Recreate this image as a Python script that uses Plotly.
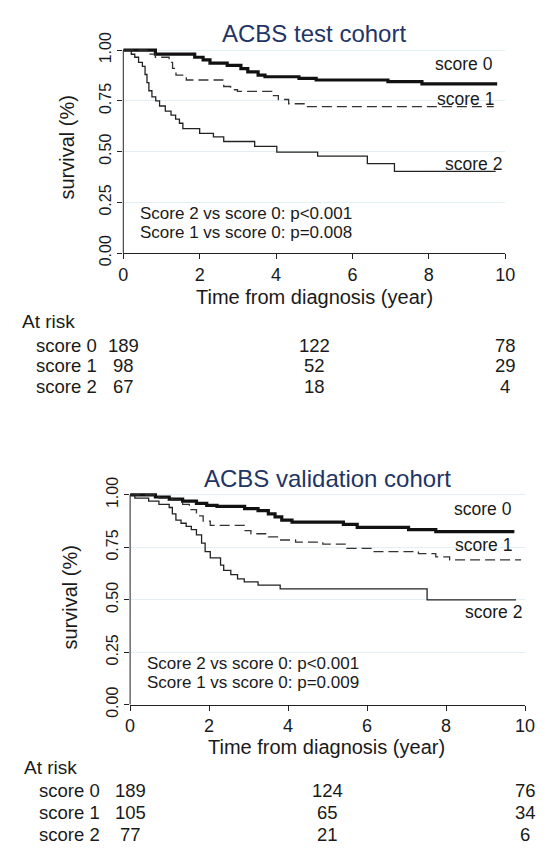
import plotly.graph_objects as go

# ---------------- data ----------------
# Test cohort (top panel): step drop times (years) and survival after each drop
test_t0 = [0, 0.84, 1.87, 2.09, 2.27, 2.72, 3.08, 3.26, 3.53, 3.71, 4.6, 5.05, 6.93, 7.82, 9.79]
test_s0 = [1, 0.981, 0.965, 0.952, 0.936, 0.925, 0.909, 0.893, 0.877, 0.869, 0.861, 0.853, 0.845, 0.834, 0.834]
test_t1 = [0, 0.62, 0.84, 1.2, 1.29, 1.38, 1.65, 2.63, 2.81, 2.99, 3.89, 4.06, 4.33, 4.78, 9.7]
test_s1 = [1, 0.981, 0.965, 0.94, 0.91, 0.877, 0.853, 0.821, 0.805, 0.797, 0.776, 0.757, 0.736, 0.722, 0.722]
test_t2 = [0, 0.21, 0.3, 0.4, 0.5, 0.57, 0.62, 0.67, 0.75, 0.85, 0.95, 1.1, 1.25, 1.37, 1.47, 1.56,
           2.0, 2.36, 2.63, 3.44, 4.02, 5.09, 6.39, 7.1, 9.75]
test_s2 = [1, 0.98, 0.965, 0.94, 0.92, 0.88, 0.84, 0.80, 0.77, 0.75, 0.725, 0.70, 0.68, 0.66, 0.64, 0.613,
           0.59, 0.573, 0.55, 0.526, 0.498, 0.478, 0.441, 0.403, 0.403]

# Validation cohort (bottom panel)
val_t0 = [0, 0.64, 0.99, 1.33, 1.68, 1.94, 2.2, 2.9, 3.24, 3.5, 3.67, 3.84, 4.1, 5.4, 5.75, 7.05, 7.74, 9.73]
val_s0 = [1, 0.99, 0.98, 0.97, 0.96, 0.95, 0.945, 0.935, 0.925, 0.91, 0.895, 0.88, 0.87, 0.86, 0.845, 0.835, 0.825, 0.825]
val_t1 = [0, 0.73, 1.07, 1.33, 1.5, 1.68, 1.85, 2.03, 2.89, 3.06, 3.5, 3.76, 4.19, 4.88, 5.49, 6.1, 7.3, 7.74, 8.09, 9.9]
val_s1 = [1, 0.985, 0.975, 0.955, 0.93, 0.90, 0.875, 0.855, 0.83, 0.815, 0.80, 0.785, 0.775, 0.765, 0.745, 0.73, 0.72, 0.705, 0.69, 0.69]
val_t2 = [0, 0.12, 0.47, 0.73, 0.99, 1.07, 1.16, 1.29, 1.42, 1.55, 1.68, 1.81, 1.9, 2.03, 2.29, 2.37, 2.55,
          2.72, 2.89, 3.24, 3.8, 7.52, 9.77]
val_s2 = [1, 0.985, 0.97, 0.955, 0.94, 0.91, 0.88, 0.865, 0.85, 0.835, 0.81, 0.77, 0.73, 0.70, 0.665, 0.64, 0.62,
          0.60, 0.585, 0.57, 0.552, 0.50, 0.50]

score_names = ["score 0", "score 1", "score 2"]
risk_times = [0, 5, 10]
test_risk0 = [189, 122, 78]
test_risk1 = [98, 52, 29]
test_risk2 = [67, 18, 4]
val_risk0 = [189, 124, 76]
val_risk1 = [105, 65, 34]
val_risk2 = [77, 21, 6]

titles = ["ACBS test cohort", "ACBS validation cohort"]
pvals_test = ["Score 2 vs score 0: p<0.001", "Score 1 vs score 0: p=0.008"]
pvals_val = ["Score 2 vs score 0: p<0.001", "Score 1 vs score 0: p=0.009"]
x_ticks = [0, 2, 4, 6, 8, 10]
y_ticks = [0, 0.25, 0.5, 0.75, 1.0]
y_tick_text = ["0.00", "0.25", "0.50", "0.75", "1.00"]

# ---------------- figure ----------------
W, H = 551, 865
FONT = "Liberation Sans, Arial, sans-serif"
TXT = "#1a1a1a"

def py(px):
    return 1 - px / H

def px_(px):
    return px / W

fig = go.Figure()

styles = [dict(color="#111111", width=3.2),
          dict(color="#333333", width=1.3, dash="10px,5px"),
          dict(color="#222222", width=1.3)]

panels = [
    ("x", "y", [(test_t0, test_s0), (test_t1, test_s1), (test_t2, test_s2)]),
    ("x2", "y2", [(val_t0, val_s0), (val_t1, val_s1), (val_t2, val_s2)]),
]
for xa, ya, series in panels:
    for (t, s), st, nm in zip(series, styles, score_names):
        fig.add_trace(go.Scatter(x=t, y=s, mode="lines", line_shape="hv", line=st,
                                 name=nm, xaxis=xa, yaxis=ya, showlegend=False,
                                 hoverinfo="skip"))

axis_common_x = dict(range=[0, 10], tickvals=x_ticks, ticks="outside", ticklen=5, tickwidth=1,
                     tickcolor="#222", showline=True, linecolor="#222", linewidth=1,
                     showgrid=False, zeroline=False,
                     tickfont=dict(family=FONT, size=18, color=TXT))
axis_common_y = dict(range=[0, 1.03], tickvals=y_ticks, ticktext=y_tick_text, ticks="outside",
                     ticklen=5, tickwidth=1, tickcolor="#222", showline=False,
                     showgrid=True, gridcolor="#e3f0f3", gridwidth=1, zeroline=False,
                     tickangle=-90, tickfont=dict(family=FONT, size=16, color=TXT))

# top panel: t=0 at 121.6px, t=10 at 514.2px; s=0 at 248.3px, s=1 at 39.3px
# bottom panel: t=0 at 128.6px, t=10 at 534.6px; s=0 at 713.3px, s=1 at 497.3px
fig.update_layout(
    width=W, height=H, margin=dict(l=0, r=0, t=0, b=0),
    paper_bgcolor="white", plot_bgcolor="white", showlegend=False,
    xaxis=dict(axis_common_x, domain=[px_(121.6), px_(514.2)], anchor="y"),
    yaxis=dict(axis_common_y, domain=[py(248.3), py(248.3 - 1.03 * 209)], anchor="x"),
    xaxis2=dict(axis_common_x, domain=[px_(128.6), px_(534.6)], anchor="y2"),
    yaxis2=dict(axis_common_y, domain=[py(713.3), py(713.3 - 1.03 * 216)], anchor="x2"),
)

# y-axis lines from 0 to 1
for xd, ya in [("x domain", "y"), ("x2 domain", "y2")]:
    fig.add_shape(type="line", xref=xd, yref=ya, x0=0, x1=0, y0=0, y1=1,
                  line=dict(color="#222", width=1), layer="above")

ann = []
def A(**kw):
    base = dict(showarrow=False, font=dict(family=FONT, size=18, color=TXT))
    f = kw.pop("font", None)
    base.update(kw)
    if f:
        base["font"] = dict(base["font"], **f)
    ann.append(base)

# titles
A(text=titles[0], xref="paper", yref="paper", x=px_(318), y=py(21.7), xanchor="center", yanchor="middle",
  font=dict(size=24, color="#1f3566"))
A(text=titles[1], xref="paper", yref="paper", x=px_(332), y=py(480), xanchor="center", yanchor="middle",
  font=dict(size=24, color="#1f3566"))
# axis titles
for xc, yc in [(318.5, 293), (331, 757)]:
    A(text="Time from diagnosis (year)", xref="paper", yref="paper", x=px_(xc), y=py(yc),
      xanchor="center", yanchor="middle", font=dict(size=20))
for xc, yc in [(63.3, 140), (66.8, 603)]:
    A(text="survival (%)", xref="paper", yref="paper", x=px_(xc), y=py(yc), textangle=-90,
      xanchor="center", yanchor="middle", font=dict(size=20))

# curve labels
for xr, yr, pos in [("x", "y", [(9.72, 0.933), (9.75, 0.76), (9.97, 0.44)]),
                    ("x2", "y2", [(9.73, 0.934), (9.73, 0.761), (9.97, 0.44)])]:
    for nm, (tx, ty) in zip(score_names, pos):
        A(text=nm, xref=xr, yref=yr, x=tx, y=ty, xanchor="right", yanchor="middle",
          font=dict(size=17.5))

# p-values
for xr, yr, lines, x0, ys in [("x", "y", pvals_test, 0.39, [0.195, 0.102]),
                              ("x2", "y2", pvals_val, 0.38, [0.196, 0.105])]:
    for ln, yy in zip(lines, ys):
        A(text=ln, xref=xr, yref=yr, x=x0, y=yy, xanchor="left", yanchor="middle",
          font=dict(size=17))

# at-risk tables
tables = [
    ("x", 15.8, 29.5, [319, 343, 364.5, 385.5], [test_risk0, test_risk1, test_risk2]),
    ("x2", 17.6, 33.4, [778, 801.7, 824, 846.7], [val_risk0, val_risk1, val_risk2]),
]
for xr, ax_left, lab_left, rows, risks in tables:
    A(text="At risk", xref="paper", yref="paper", x=px_(ax_left), y=py(rows[0]),
      xanchor="left", yanchor="middle", font=dict(size=19))
    for nm, rowy, vals in zip(score_names, rows[1:], risks):
        A(text=nm, xref="paper", yref="paper", x=px_(lab_left), y=py(rowy),
          xanchor="left", yanchor="middle", font=dict(size=18.5))
        for tt, v in zip(risk_times, vals):
            A(text=str(v), xref=xr, yref="paper", x=tt, y=py(rowy),
              xanchor="center", yanchor="middle", font=dict(size=18.5))

fig.update_layout(annotations=ann)
fig.write_html("out.html", config={"displayModeBar": False},
               post_script="document.body.style.margin='0';")
